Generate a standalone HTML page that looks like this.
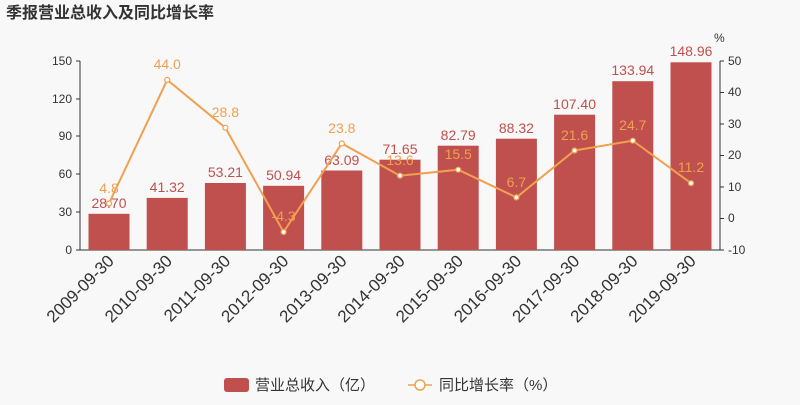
<!DOCTYPE html><html><head><meta charset="utf-8"><style>body{margin:0;background:#f8f8f8}svg{font-family:"Liberation Sans","Noto Sans CJK SC",sans-serif}</style></head><body>
<svg width="800" height="400" viewBox="0 0 800 400" xmlns="http://www.w3.org/2000/svg">
<rect width="800" height="400" fill="#f8f8f8"/>
<text x="6" y="18" font-size="16" font-weight="bold" fill="#333">季报营业总收入及同比增长率</text>
<g font-size="12" fill="#333">
<line x1="80" y1="61" x2="80" y2="250" stroke="#333"/>
<line x1="720" y1="61" x2="720" y2="250" stroke="#333"/>
<line x1="80" y1="250" x2="720" y2="250" stroke="#333"/>
<g text-anchor="end">
<text x="72" y="254">0</text><text x="72" y="216">30</text><text x="72" y="178">60</text><text x="72" y="140">90</text><text x="72" y="103">120</text><text x="72" y="65">150</text>
</g>
<g stroke="#333"><line x1="76" y1="250" x2="80" y2="250"/><line x1="76" y1="212" x2="80" y2="212"/><line x1="76" y1="174" x2="80" y2="174"/><line x1="76" y1="136" x2="80" y2="136"/><line x1="76" y1="99" x2="80" y2="99"/><line x1="76" y1="61" x2="80" y2="61"/>
<line x1="720" y1="250" x2="724" y2="250"/><line x1="720" y1="218.5" x2="724" y2="218.5"/><line x1="720" y1="187" x2="724" y2="187"/><line x1="720" y1="155.5" x2="724" y2="155.5"/><line x1="720" y1="124" x2="724" y2="124"/><line x1="720" y1="92.5" x2="724" y2="92.5"/><line x1="720" y1="61" x2="724" y2="61"/></g>
<text x="728" y="254">-10</text><text x="728" y="222">0</text><text x="728" y="191">10</text><text x="728" y="159">20</text><text x="728" y="128">30</text><text x="728" y="96">40</text><text x="728" y="65">50</text>
<text x="714" y="42" font-size="12">%</text>
</g>
<g fill="#c0504d">
<rect x="88.5" y="213.8" width="41" height="36.2"/>
<rect x="146.7" y="197.9" width="41" height="52.1"/>
<rect x="204.9" y="183.0" width="41" height="67.0"/>
<rect x="263.1" y="185.8" width="41" height="64.2"/>
<rect x="321.3" y="170.5" width="41" height="79.5"/>
<rect x="379.5" y="159.7" width="41" height="90.3"/>
<rect x="437.7" y="145.7" width="41" height="104.3"/>
<rect x="495.9" y="138.7" width="41" height="111.3"/>
<rect x="554.1" y="114.7" width="41" height="135.3"/>
<rect x="612.3" y="81.2" width="41" height="168.8"/>
<rect x="670.5" y="62.3" width="41" height="187.7"/>
</g>
<g fill="#c0504d" font-size="14" text-anchor="middle">
<text x="109" y="208">28.70</text><text x="167.2" y="192">41.32</text><text x="225.4" y="177">53.21</text><text x="283.6" y="180">50.94</text><text x="341.8" y="165">63.09</text><text x="400" y="154">71.65</text><text x="458.2" y="140">82.79</text><text x="516.4" y="133">88.32</text><text x="574.6" y="109">107.40</text><text x="632.8" y="75">133.94</text><text x="691" y="56">148.96</text>
</g>
<polyline fill="none" stroke="#f0a050" stroke-width="2" points="109,203.4 167.2,79.9 225.4,127.8 283.6,232 341.8,143.5 400,175.7 458.2,169.7 516.4,197.4 574.6,150.5 632.8,140.7 691,183.2"/>
<g fill="#fff" stroke="#f0a050" stroke-width="1.2">
<circle cx="109" cy="203.4" r="2.5"/><circle cx="167.2" cy="79.9" r="2.5"/><circle cx="225.4" cy="127.8" r="2.5"/><circle cx="283.6" cy="232" r="2.5"/><circle cx="341.8" cy="143.5" r="2.5"/><circle cx="400" cy="175.7" r="2.5"/><circle cx="458.2" cy="169.7" r="2.5"/><circle cx="516.4" cy="197.4" r="2.5"/><circle cx="574.6" cy="150.5" r="2.5"/><circle cx="632.8" cy="140.7" r="2.5"/><circle cx="691" cy="183.2" r="2.5"/>
</g>
<g fill="#f0a050" font-size="14" text-anchor="middle">
<text x="109" y="193">4.8</text><text x="167.2" y="69">44.0</text><text x="225.4" y="117">28.8</text><text x="283.6" y="221">-4.3</text><text x="341.8" y="133">23.8</text><text x="400" y="165">13.6</text><text x="458.2" y="159">15.5</text><text x="516.4" y="187">6.7</text><text x="574.6" y="140">21.6</text><text x="632.8" y="130">24.7</text><text x="691" y="172">11.2</text>
</g>
<g font-size="17" fill="#333" text-anchor="end">
<text transform="translate(115,262) rotate(-45)">2009-09-30</text>
<text transform="translate(173.2,262) rotate(-45)">2010-09-30</text>
<text transform="translate(231.4,262) rotate(-45)">2011-09-30</text>
<text transform="translate(289.6,262) rotate(-45)">2012-09-30</text>
<text transform="translate(347.8,262) rotate(-45)">2013-09-30</text>
<text transform="translate(406,262) rotate(-45)">2014-09-30</text>
<text transform="translate(464.2,262) rotate(-45)">2015-09-30</text>
<text transform="translate(522.4,262) rotate(-45)">2016-09-30</text>
<text transform="translate(580.6,262) rotate(-45)">2017-09-30</text>
<text transform="translate(638.8,262) rotate(-45)">2018-09-30</text>
<text transform="translate(697,262) rotate(-45)">2019-09-30</text>
</g>
<rect x="224" y="378" width="25" height="14" rx="3" fill="#c0504d"/>
<text x="255" y="390" font-size="15" fill="#333">营业总收入（亿）</text>
<line x1="408" y1="385" x2="432" y2="385" stroke="#f0a050" stroke-width="1.5"/>
<circle cx="420" cy="385" r="5" fill="#fff" stroke="#f0a050" stroke-width="1.5"/>
<text x="439" y="390" font-size="15" fill="#333">同比增长率（%）</text>
</svg>
</body></html>
